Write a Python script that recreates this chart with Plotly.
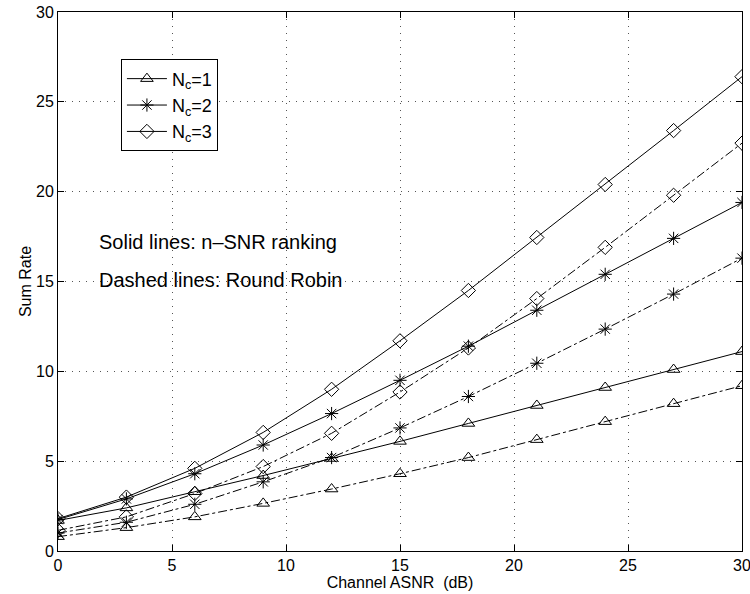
import plotly.graph_objects as go

snr = [0, 3, 6, 9, 12, 15, 18, 21, 24, 27, 30]

nc1_solid = [1.7, 2.4, 3.3, 4.2, 5.15, 6.1, 7.1, 8.1, 9.1, 10.1, 11.1]
nc1_dash = [0.8, 1.3, 1.9, 2.65, 3.45, 4.3, 5.2, 6.2, 7.2, 8.2, 9.2]
nc2_solid = [1.75, 2.9, 4.3, 5.9, 7.65, 9.5, 11.4, 13.4, 15.4, 17.4, 19.4]
nc2_dash = [1.0, 1.6, 2.6, 3.85, 5.2, 6.85, 8.6, 10.45, 12.35, 14.3, 16.3]
nc3_solid = [1.8, 3.0, 4.6, 6.6, 9.0, 11.7, 14.5, 17.45, 20.4, 23.4, 26.4]
nc3_dash = [1.15, 1.9, 3.2, 4.7, 6.55, 8.85, 11.3, 14.05, 16.9, 19.8, 22.7]

legend_names = ["N<sub>c</sub>=1", "N<sub>c</sub>=2", "N<sub>c</sub>=3"]
symbols = ["triangle-up-open", "asterisk-open", "diamond-open"]
solid_series = [nc1_solid, nc2_solid, nc3_solid]
dash_series = [nc1_dash, nc2_dash, nc3_dash]

FONT = "Liberation Sans, Arial, sans-serif"

fig = go.Figure()
for name, sym, ys in zip(legend_names, symbols, solid_series):
    fig.add_trace(go.Scatter(
        x=snr, y=ys, mode="lines+markers", name=name,
        line=dict(color="black", width=1, dash="solid"),
        marker=dict(symbol=sym, size=11, color="black", line=dict(width=1, color="black")),
    ))
for name, sym, ys in zip(legend_names, symbols, dash_series):
    fig.add_trace(go.Scatter(
        x=snr, y=ys, mode="lines+markers", name=name, showlegend=False,
        line=dict(color="black", width=1, dash="dashdot"),
        marker=dict(symbol=sym, size=11, color="black", line=dict(width=1, color="black")),
    ))

axis_common = dict(
    showline=True, linecolor="black", linewidth=1, mirror="ticks",
    ticks="inside", ticklen=6, tickcolor="black",
    showgrid=True, gridcolor="#555555", griddash="1px,6px", gridwidth=1,
    zeroline=False, automargin=False, ticklabeloverflow="allow",
    tickfont=dict(family=FONT, size=16, color="black"),
)

fig.update_layout(
    width=750, height=594,
    margin=dict(l=58, r=8, t=12, b=43),
    paper_bgcolor="white", plot_bgcolor="white",
    font=dict(family=FONT, color="black"),
    xaxis=dict(range=[0, 30], dtick=5,
               title=dict(text="Channel ASNR  (dB)", font=dict(size=16), standoff=0),
               **axis_common),
    yaxis=dict(range=[0, 30], dtick=5,
               title=dict(text="Sum Rate", font=dict(size=16), standoff=0),
               **axis_common),
    legend=dict(
        x=0.092, y=0.912, xanchor="left", yanchor="top",
        bgcolor="white", bordercolor="black", borderwidth=1,
        font=dict(size=18, color="black"),
        tracegroupgap=0, itemwidth=40,
    ),
    annotations=[
        dict(x=1.7, y=17.2, xref="x", yref="y", text="Solid lines: n\u2013SNR ranking",
             showarrow=False, xanchor="left", font=dict(size=20, color="black")),
        dict(x=1.7, y=15.1, xref="x", yref="y", text="Dashed lines: Round Robin",
             showarrow=False, xanchor="left", font=dict(size=20, color="black")),
    ],
)

fig.write_html("out.html")
